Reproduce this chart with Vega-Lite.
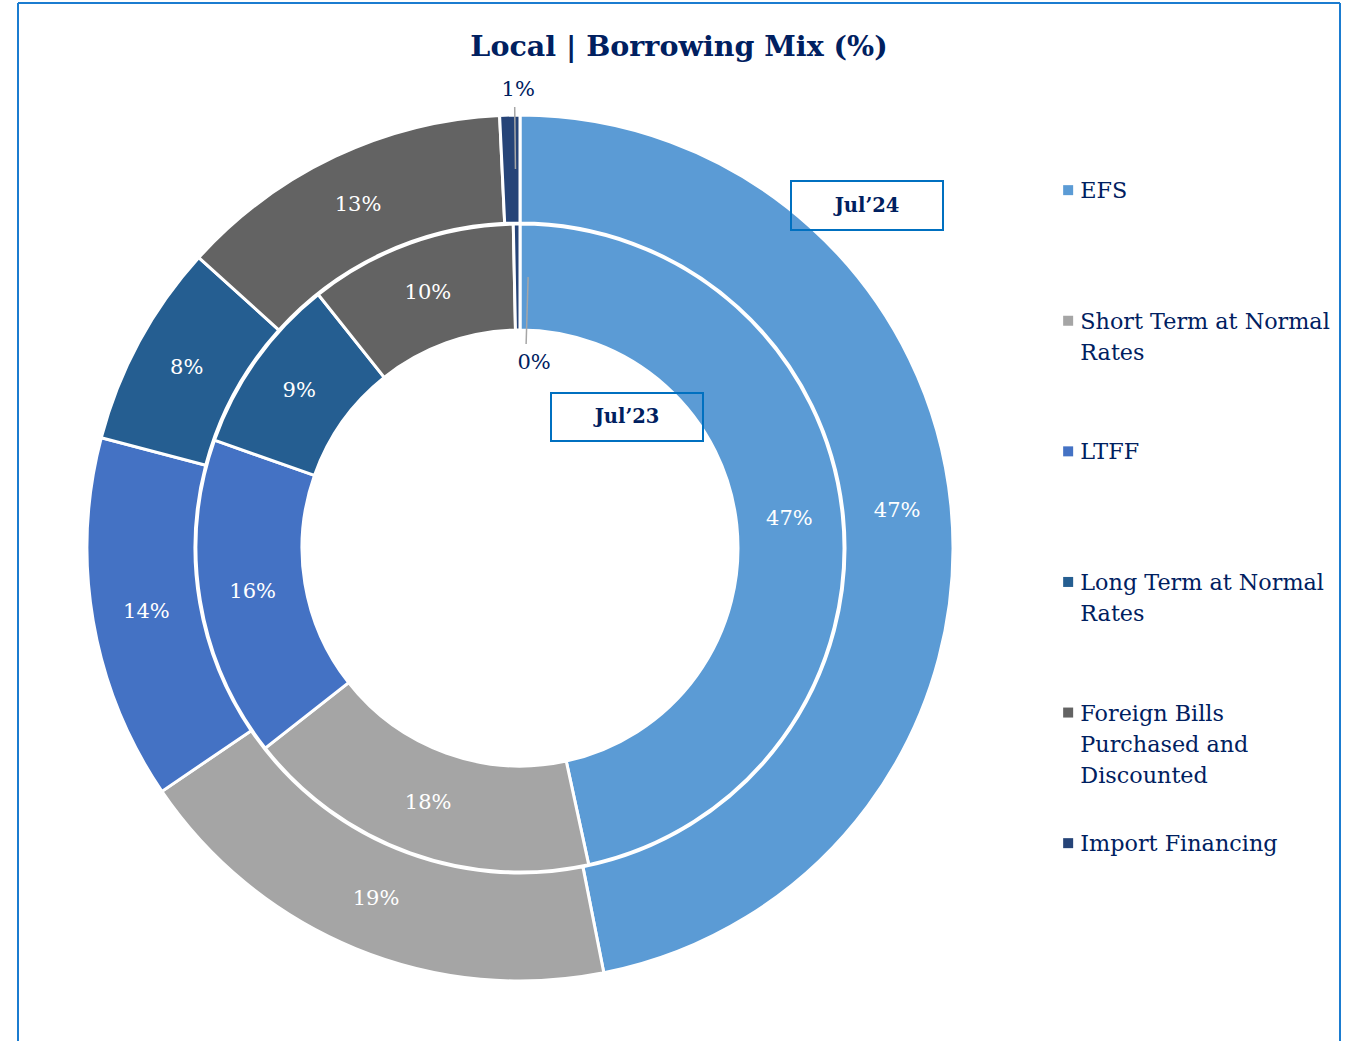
{
  "$schema": "https://vega.github.io/schema/vega-lite/v6.json",
  "width": 1322,
  "height": 1038,
  "autosize": {"type": "none"},
  "padding": {"left": 18, "top": 3, "right": 7, "bottom": 0},
  "background": "white",
  "config": {
    "view": {"stroke": null},
    "font": "DejaVu Serif",
    "style": {"guide-label": {"lineHeight": 31, "dy": 8}},
    "legend": {
      "orient": "none",
      "legendX": 1039,
      "legendY": 176,
      "title": null,
      "padding": 0,
      "symbolType": "square",
      "symbolSize": 100,
      "symbolStrokeWidth": 0,
      "labelFont": "DejaVu Serif",
      "labelFontSize": 22.3,
      "labelColor": "#002060",
      "labelOffset": 1,
      "labelLimit": 500,
      "labelBaseline": "alphabetic",
      "rowPadding": 44.6
    }
  },
  "datasets": {
    "mix": [
      {"period": "Jul’24", "category": "EFS", "value": 46.9},
      {"period": "Jul’24", "category": "Short Term at Normal Rates", "value": 18.6},
      {"period": "Jul’24", "category": "LTFF", "value": 13.6},
      {"period": "Jul’24", "category": "Long Term at Normal Rates", "value": 7.6},
      {"period": "Jul’24", "category": "Foreign Bills Purchased and Discounted", "value": 12.55},
      {"period": "Jul’24", "category": "Import Financing", "value": 0.75},
      {"period": "Jul’23", "category": "EFS", "value": 46.6},
      {"period": "Jul’23", "category": "Short Term at Normal Rates", "value": 17.8},
      {"period": "Jul’23", "category": "LTFF", "value": 16.0},
      {"period": "Jul’23", "category": "Long Term at Normal Rates", "value": 8.9},
      {"period": "Jul’23", "category": "Foreign Bills Purchased and Discounted", "value": 10.37},
      {"period": "Jul’23", "category": "Import Financing", "value": 0.33}
    ],
    "periods": [
      {"period": "Jul’24"},
      {"period": "Jul’23"}
    ]
  },
  "layer": [
    {
      "data": {"values": [{}]},
      "mark": {"type": "rule", "stroke": "#1B7CD0", "strokeWidth": 2},
      "encoding": {"x": {"value": 0}, "y": {"value": 0}, "y2": {"value": "height"}}
    },
    {
      "data": {"values": [{}]},
      "mark": {"type": "rule", "stroke": "#1B7CD0", "strokeWidth": 2},
      "encoding": {"x": {"value": "width"}, "y": {"value": 0}, "y2": {"value": "height"}}
    },
    {
      "data": {"values": [{}]},
      "mark": {"type": "rule", "stroke": "#1B7CD0", "strokeWidth": 2},
      "encoding": {"x": {"value": 0}, "x2": {"value": "width"}, "y": {"value": 0}}
    },
    {
      "data": {"values": [{}]},
      "mark": {"type": "text", "text": "Local | Borrowing Mix (%)", "x": {"expr": "width/2"}, "y": 44, "align": "center", "baseline": "middle", "font": "DejaVu Serif", "fontSize": 28.5, "fontWeight": "bold", "fill": "#002060"},
      "encoding": {}
    },
    {
      "data": {"name": "mix"},
      "transform": [
        {"filter": {"field": "period", "equal": "Jul’24"}},
        {"calculate": "indexof(['EFS','Short Term at Normal Rates','LTFF','Long Term at Normal Rates','Foreign Bills Purchased and Discounted','Import Financing'], datum.category)", "as": "idx"}
      ],
      "mark": {"type": "arc", "x": 502, "y": 545, "radius": 433, "radius2": 325, "stroke": "white", "strokeWidth": 3},
      "encoding": {
        "theta": {"field": "value", "type": "quantitative", "stack": true},
        "order": {"field": "idx", "type": "quantitative"},
        "color": {
          "field": "category",
          "type": "nominal",
          "scale": {
            "domain": ["EFS", "Short Term at Normal Rates", "LTFF", "Long Term at Normal Rates", "Foreign Bills Purchased and Discounted", "Import Financing"],
            "range": ["#5B9BD5", "#A5A5A5", "#4472C4", "#255E91", "#636363", "#264478"]
          },
          "legend": {
            "labelExpr": "datum.label == 'Short Term at Normal Rates' ? ['Short Term at Normal','Rates',''] : datum.label == 'Long Term at Normal Rates' ? ['Long Term at Normal','Rates',''] : datum.label == 'Foreign Bills Purchased and Discounted' ? ['Foreign Bills','Purchased and','Discounted'] : [datum.label,'','']"
          }
        }
      }
    },
    {
      "data": {"name": "mix"},
      "transform": [
        {"filter": {"field": "period", "equal": "Jul’23"}},
        {"calculate": "indexof(['EFS','Short Term at Normal Rates','LTFF','Long Term at Normal Rates','Foreign Bills Purchased and Discounted','Import Financing'], datum.category)", "as": "idx"}
      ],
      "mark": {"type": "arc", "x": 502, "y": 545, "radius": 324, "radius2": 218, "stroke": "white", "strokeWidth": 3},
      "encoding": {
        "theta": {"field": "value", "type": "quantitative", "stack": true},
        "order": {"field": "idx", "type": "quantitative"},
        "color": {
          "field": "category",
          "type": "nominal",
          "legend": {
            "labelExpr": "datum.label == 'Short Term at Normal Rates' ? ['Short Term at Normal','Rates',''] : datum.label == 'Long Term at Normal Rates' ? ['Long Term at Normal','Rates',''] : datum.label == 'Foreign Bills Purchased and Discounted' ? ['Foreign Bills','Purchased and','Discounted'] : [datum.label,'','']"
          }
        }
      }
    },
    {
      "data": {"values": [{}]},
      "mark": {"type": "arc", "x": 502, "y": 545, "theta": -0.012, "theta2": -0.012, "radius": 441, "radius2": 379, "fillOpacity": 0, "stroke": "#A6A6A6", "strokeWidth": 1.5},
      "encoding": {}
    },
    {
      "data": {"values": [{}]},
      "mark": {"type": "arc", "x": 502, "y": 545, "theta": 0.03, "theta2": 0.03, "radius": 271, "radius2": 204, "fillOpacity": 0, "stroke": "#A6A6A6", "strokeWidth": 1.5},
      "encoding": {}
    },
    {
      "data": {"name": "mix"},
      "transform": [
        {"filter": {"field": "period", "equal": "Jul’24"}},
        {"calculate": "indexof(['EFS','Short Term at Normal Rates','LTFF','Long Term at Normal Rates','Foreign Bills Purchased and Discounted','Import Financing'], datum.category)", "as": "idx"},
        {"calculate": "format(datum.value, '.0f') + '%'", "as": "label"}
      ],
      "mark": {"type": "text", "x": 502, "y": 545, "radius": 379, "font": "DejaVu Serif", "fontSize": 21, "fill": "white", "align": "center", "baseline": "middle"},
      "encoding": {
        "theta": {"field": "value", "type": "quantitative", "stack": true},
        "order": {"field": "idx", "type": "quantitative"},
        "text": {"field": "label", "type": "nominal"},
        "opacity": {"condition": {"test": "datum.value < 1", "value": 0}, "value": 1}
      }
    },
    {
      "data": {"name": "mix"},
      "transform": [
        {"filter": {"field": "period", "equal": "Jul’24"}},
        {"calculate": "indexof(['EFS','Short Term at Normal Rates','LTFF','Long Term at Normal Rates','Foreign Bills Purchased and Discounted','Import Financing'], datum.category)", "as": "idx"},
        {"calculate": "format(datum.value, '.0f') + '%'", "as": "label"}
      ],
      "mark": {"type": "text", "x": 502, "y": 545, "radius": 458, "dx": 9, "font": "DejaVu Serif", "fontSize": 21, "fill": "#002060", "align": "center", "baseline": "middle"},
      "encoding": {
        "theta": {"field": "value", "type": "quantitative", "stack": true},
        "order": {"field": "idx", "type": "quantitative"},
        "text": {"field": "label", "type": "nominal"},
        "opacity": {"condition": {"test": "datum.value < 1", "value": 1}, "value": 0}
      }
    },
    {
      "data": {"name": "mix"},
      "transform": [
        {"filter": {"field": "period", "equal": "Jul’23"}},
        {"calculate": "indexof(['EFS','Short Term at Normal Rates','LTFF','Long Term at Normal Rates','Foreign Bills Purchased and Discounted','Import Financing'], datum.category)", "as": "idx"},
        {"calculate": "format(datum.value, '.0f') + '%'", "as": "label"}
      ],
      "mark": {"type": "text", "x": 502, "y": 545, "radius": 271, "font": "DejaVu Serif", "fontSize": 21, "fill": "white", "align": "center", "baseline": "middle"},
      "encoding": {
        "theta": {"field": "value", "type": "quantitative", "stack": true},
        "order": {"field": "idx", "type": "quantitative"},
        "text": {"field": "label", "type": "nominal"},
        "opacity": {"condition": {"test": "datum.value < 1", "value": 0}, "value": 1}
      }
    },
    {
      "data": {"name": "mix"},
      "transform": [
        {"filter": {"field": "period", "equal": "Jul’23"}},
        {"calculate": "indexof(['EFS','Short Term at Normal Rates','LTFF','Long Term at Normal Rates','Foreign Bills Purchased and Discounted','Import Financing'], datum.category)", "as": "idx"},
        {"calculate": "format(datum.value, '.0f') + '%'", "as": "label"}
      ],
      "mark": {"type": "text", "x": 502, "y": 545, "radius": 185, "dx": 16, "font": "DejaVu Serif", "fontSize": 21, "fill": "#002060", "align": "center", "baseline": "middle"},
      "encoding": {
        "theta": {"field": "value", "type": "quantitative", "stack": true},
        "order": {"field": "idx", "type": "quantitative"},
        "text": {"field": "label", "type": "nominal"},
        "opacity": {"condition": {"test": "datum.value < 1", "value": 1}, "value": 0}
      }
    },
    {
      "data": {"name": "periods"},
      "transform": [{"filter": {"field": "period", "equal": "Jul’24"}}],
      "mark": {"type": "rect", "x": 773, "x2": 925, "y": 178, "y2": 227, "fill": null, "fillOpacity": 0, "stroke": "#0070C0", "strokeWidth": 2},
      "encoding": {}
    },
    {
      "data": {"name": "periods"},
      "transform": [{"filter": {"field": "period", "equal": "Jul’24"}}],
      "mark": {"type": "text", "x": 849, "y": 203, "align": "center", "baseline": "middle", "font": "DejaVu Serif", "fontSize": 19.5, "fontWeight": "bold", "fill": "#002060"},
      "encoding": {"text": {"field": "period", "type": "nominal"}}
    },
    {
      "data": {"name": "periods"},
      "transform": [{"filter": {"field": "period", "equal": "Jul’23"}}],
      "mark": {"type": "rect", "x": 533, "x2": 685, "y": 390, "y2": 438, "fill": null, "fillOpacity": 0, "stroke": "#0070C0", "strokeWidth": 2},
      "encoding": {}
    },
    {
      "data": {"name": "periods"},
      "transform": [{"filter": {"field": "period", "equal": "Jul’23"}}],
      "mark": {"type": "text", "x": 609, "y": 414, "align": "center", "baseline": "middle", "font": "DejaVu Serif", "fontSize": 19.5, "fontWeight": "bold", "fill": "#002060"},
      "encoding": {"text": {"field": "period", "type": "nominal"}}
    }
  ]
}
